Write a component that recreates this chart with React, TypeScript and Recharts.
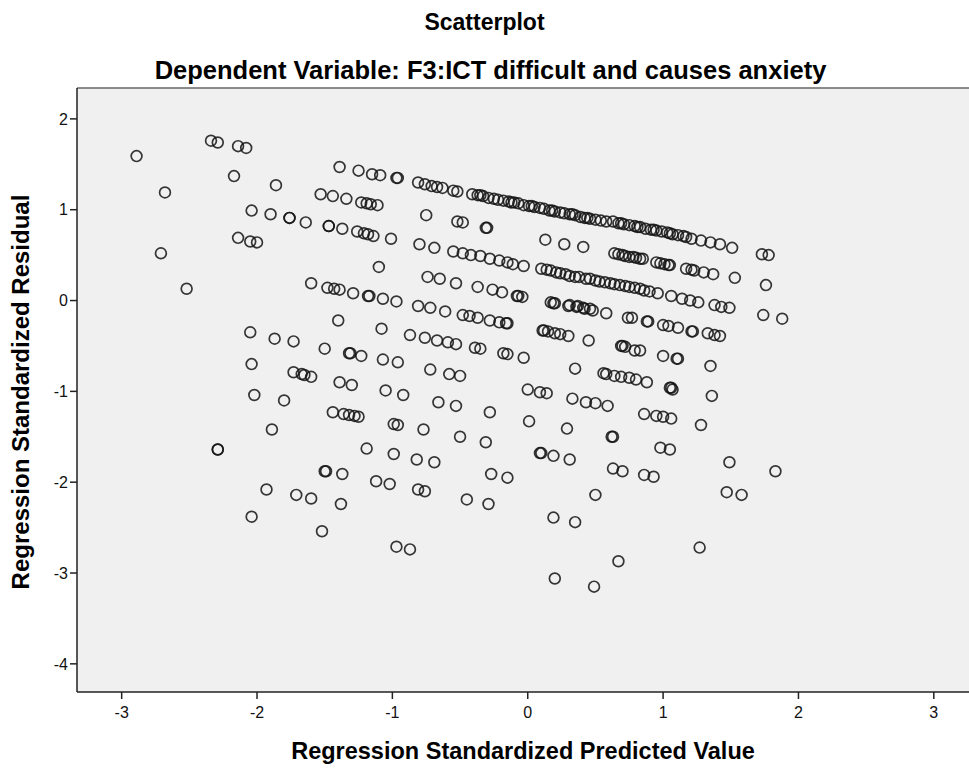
import { ScatterChart, Scatter, XAxis, YAxis, CartesianGrid, ReferenceLine } from 'recharts'

// residuals vs predicted
const isolatedLeft: [number, number][] = [
  [-2.89, 1.59], [-2.68, 1.19], [-2.71, 0.52], [-2.52, 0.13], [-2.34, 1.76], [-2.29, 1.74],
  [-2.14, 1.7], [-2.08, 1.68], [-2.17, 1.37], [-1.86, 1.27], [-2.04, 0.99], [-1.9, 0.95],
  [-1.76, 0.91], [-1.76, 0.91], [-1.64, 0.86], [-2.14, 0.69], [-2.05, 0.65], [-2.0, 0.64],
]

const bandA: [number, number][] = [
  [-1.39, 1.47], [-1.25, 1.43], [-1.15, 1.39], [-1.09, 1.38], [-0.97, 1.35], [-0.96, 1.35],
  [-0.81, 1.3], [-0.76, 1.28], [-0.71, 1.26], [-0.67, 1.25], [-0.63, 1.24], [-0.55, 1.21], [-0.52, 1.2],
  [-0.41, 1.17], [-0.37, 1.16], [-0.35, 1.16], [-0.33, 1.15], [-0.29, 1.13], [-0.25, 1.12], [-0.22, 1.11],
  [-0.18, 1.1], [-0.14, 1.09], [-0.12, 1.08], [-0.1, 1.08], [-0.07, 1.07], [-0.03, 1.05], [0.01, 1.04],
  [0.03, 1.04], [0.05, 1.03], [0.09, 1.02], [0.12, 1.01], [0.16, 0.99], [0.18, 0.99], [0.2, 0.98],
  [0.24, 0.97], [0.27, 0.96], [0.31, 0.95], [0.33, 0.95], [0.35, 0.94], [0.39, 0.92], [0.42, 0.91],
  [0.44, 0.91], [0.46, 0.9], [0.5, 0.89], [0.54, 0.88], [0.58, 0.87],
  [0.63, 0.87], [0.67, 0.85], [0.69, 0.85], [0.71, 0.84], [0.75, 0.83], [0.79, 0.82], [0.81, 0.81],
  [0.83, 0.81], [0.87, 0.79], [0.91, 0.78], [0.93, 0.78], [0.95, 0.77], [0.99, 0.76], [1.03, 0.75],
  [1.05, 0.74], [1.07, 0.73], [1.11, 0.72], [1.15, 0.71], [1.17, 0.7],
  [1.21, 0.68], [1.28, 0.66], [1.35, 0.64], [1.42, 0.62], [1.51, 0.58], [1.73, 0.51], [1.78, 0.5],
]

const bandB: [number, number][] = [
  [-1.53, 1.17], [-1.44, 1.15], [-1.34, 1.12], [-1.23, 1.08], [-1.19, 1.07], [-1.16, 1.06], [-1.11, 1.05],
  [-0.75, 0.94], [-0.52, 0.87], [-0.48, 0.86], [-0.31, 0.8], [-0.3, 0.8],
  [0.13, 0.67], [0.27, 0.62], [0.41, 0.59],
  [0.64, 0.52], [0.67, 0.51], [0.7, 0.5], [0.72, 0.49], [0.75, 0.48], [0.78, 0.48], [0.8, 0.47],
  [0.83, 0.46], [0.85, 0.46], [0.95, 0.42], [0.98, 0.41], [1.01, 0.4], [1.04, 0.39], [1.05, 0.39],
  [1.17, 0.35], [1.21, 0.34], [1.23, 0.33], [1.3, 0.31], [1.37, 0.29], [1.53, 0.25], [1.76, 0.17],
]

const bandC: [number, number][] = [
  [-1.47, 0.82], [-1.47, 0.82], [-1.37, 0.79], [-1.26, 0.76], [-1.21, 0.74], [-1.18, 0.73], [-1.14, 0.71],
  [-1.01, 0.68], [-0.8, 0.62], [-0.69, 0.58],
  [-0.55, 0.54], [-0.48, 0.52], [-0.42, 0.5], [-0.35, 0.49], [-0.28, 0.46], [-0.21, 0.44], [-0.15, 0.42],
  [-0.11, 0.4], [-0.03, 0.38],
  [0.1, 0.35], [0.14, 0.34], [0.17, 0.33], [0.21, 0.31], [0.24, 0.3], [0.28, 0.29], [0.31, 0.27],
  [0.35, 0.26], [0.38, 0.26], [0.43, 0.24], [0.46, 0.24], [0.5, 0.22], [0.53, 0.21], [0.57, 0.2],
  [0.61, 0.19], [0.64, 0.18], [0.68, 0.17], [0.72, 0.16], [0.75, 0.15], [0.79, 0.14], [0.83, 0.13],
  [0.86, 0.11], [0.9, 0.1], [0.96, 0.08],
  [1.06, 0.05], [1.14, 0.02], [1.2, 0.0], [1.26, -0.02], [1.38, -0.05], [1.43, -0.07], [1.49, -0.08],
  [1.74, -0.16], [1.88, -0.2],
]

const bandE: [number, number][] = [
  [-1.1, 0.37], [-0.74, 0.26], [-0.65, 0.24], [-0.53, 0.19], [-0.37, 0.15], [-0.26, 0.12],
  [-0.19, 0.09], [-0.08, 0.05], [-0.07, 0.05], [-0.04, 0.04],
]

const bandD: [number, number][] = [
  [-1.6, 0.19], [-1.48, 0.14], [-1.43, 0.13], [-1.39, 0.12], [-1.29, 0.08], [-1.18, 0.05], [-1.17, 0.05],
  [-1.07, 0.02], [-0.97, -0.01], [-0.81, -0.06], [-0.72, -0.08], [-0.61, -0.12], [-0.48, -0.16],
  [-0.43, -0.17], [-0.37, -0.19], [-0.28, -0.22], [-0.21, -0.24], [-0.16, -0.25], [-0.15, -0.25],
  [0.17, -0.02], [0.19, -0.03], [0.2, -0.03], [0.3, -0.06], [0.31, -0.05], [0.36, -0.07], [0.37, -0.06],
  [0.41, -0.08], [0.42, -0.09], [0.46, -0.09], [0.48, -0.11], [0.58, -0.14], [0.74, -0.19], [0.77, -0.19],
  [0.88, -0.23], [0.89, -0.23], [1.0, -0.27], [1.04, -0.28], [1.11, -0.3], [1.21, -0.34], [1.22, -0.34],
  [1.33, -0.36], [1.38, -0.38], [1.42, -0.39],
]

const bandF: [number, number][] = [
  [-1.4, -0.22], [-1.08, -0.31], [-0.87, -0.38], [-0.76, -0.41], [-0.67, -0.44], [-0.59, -0.46],
  [-0.53, -0.48], [-0.39, -0.52], [-0.35, -0.53], [-0.18, -0.58], [-0.15, -0.59], [-0.03, -0.63],
  [0.11, -0.33], [0.12, -0.33], [0.15, -0.34], [0.2, -0.36], [0.24, -0.37], [0.3, -0.39], [0.45, -0.44],
  [0.69, -0.5], [0.7, -0.5], [0.72, -0.51], [0.79, -0.55], [0.83, -0.55], [1.0, -0.61], [1.1, -0.64],
  [1.11, -0.64], [1.35, -0.72],
]

const bandG: [number, number][] = [
  [-1.32, -0.58], [-1.31, -0.58], [-1.23, -0.61], [-1.07, -0.65], [-0.96, -0.68], [-0.72, -0.76],
  [-0.58, -0.81], [-0.5, -0.83],
  [0.35, -0.75], [0.56, -0.8], [0.58, -0.81], [0.64, -0.83], [0.69, -0.84], [0.75, -0.85], [0.8, -0.87],
  [0.88, -0.9], [1.05, -0.96], [1.06, -0.96], [1.07, -0.98], [1.36, -1.05],
]

const bandH: [number, number][] = [
  [-2.05, -0.35], [-1.87, -0.42], [-1.73, -0.45], [-1.5, -0.53], [-2.04, -0.7], [-1.73, -0.79],
  [-1.67, -0.81], [-1.65, -0.82], [-1.6, -0.84], [-1.39, -0.9], [-1.3, -0.93], [-1.05, -0.99],
  [-0.92, -1.04], [-0.66, -1.12], [-0.53, -1.16], [-0.28, -1.23],
]

const bandI: [number, number][] = [
  [0.0, -0.98], [0.09, -1.01], [0.14, -1.02], [0.33, -1.08], [0.43, -1.12], [0.5, -1.13], [0.59, -1.16],
  [0.86, -1.25], [0.95, -1.27], [1.0, -1.28], [1.06, -1.3], [1.28, -1.37],
]

const bandJ: [number, number][] = [
  [-2.02, -1.04], [-1.8, -1.1], [-1.89, -1.42], [-1.44, -1.23], [-1.36, -1.25], [-1.32, -1.26],
  [-1.28, -1.27], [-1.25, -1.28], [-0.99, -1.36], [-0.96, -1.37], [-0.77, -1.42], [-0.5, -1.5],
  [-0.31, -1.56], [0.01, -1.33], [0.29, -1.41], [0.62, -1.5], [0.63, -1.5],
]

const bandL: [number, number][] = [
  [-2.29, -1.64], [-2.29, -1.64], [-1.19, -1.63], [-0.99, -1.69], [-0.82, -1.75], [-0.69, -1.78],
  [-0.27, -1.91], [-0.15, -1.95], [0.09, -1.68], [0.1, -1.68], [0.19, -1.71], [0.31, -1.75],
  [0.63, -1.85], [0.7, -1.88], [0.86, -1.92], [0.93, -1.94], [0.98, -1.62], [1.05, -1.64],
  [1.49, -1.78], [1.83, -1.88],
]

const bandM: [number, number][] = [
  [-1.5, -1.88], [-1.49, -1.88], [-1.37, -1.91], [-1.12, -1.99], [-1.02, -2.02], [-0.81, -2.08],
  [-0.76, -2.1], [-0.45, -2.19], [-0.29, -2.24], [-1.93, -2.08], [-1.71, -2.14], [-1.6, -2.18],
  [-1.38, -2.24], [0.5, -2.14], [1.47, -2.11], [1.58, -2.14],
]

const lowerTail: [number, number][] = [
  [-2.04, -2.38], [-1.52, -2.54], [-0.97, -2.71], [-0.87, -2.74], [0.19, -2.39], [0.35, -2.44],
  [0.67, -2.87], [0.2, -3.06], [0.49, -3.15], [1.27, -2.72],
]

const xTicks = [-3, -2, -1, 0, 1, 2, 3]
const yTicks = [-4, -3, -2, -1, 0, 1, 2]

const points = [
  ...isolatedLeft, ...bandA, ...bandB, ...bandC, ...bandE, ...bandD, ...bandF,
  ...bandG, ...bandH, ...bandI, ...bandJ, ...bandL, ...bandM, ...lowerTail,
].map(([x, y]) => ({ x, y }))

const font = '"Liberation Sans", Arial, sans-serif'

const Ring = (p: any) => (
  <circle cx={p.cx} cy={p.cy} r={5.4} fill="none" stroke="#141414" strokeOpacity={0.85} strokeWidth={1.7} />
)

const titleStyle = { position: 'absolute' as const, textAlign: 'center' as const, fontWeight: 'bold', whiteSpace: 'nowrap' as const, lineHeight: '28px' }

export default function App() {
  return (
    <div style={{ position: 'absolute', left: 0, top: 0, width: 969, height: 769, background: '#fff', fontFamily: font, overflow: 'hidden' }}>
      <div style={{ ...titleStyle, top: 8, left: 0, width: 969, fontSize: 23 }}>
        Scatterplot
      </div>
      <div style={{ ...titleStyle, top: 56, left: 6, width: 969, fontSize: 25.5 }}>
        Dependent Variable: F3:ICT difficult and causes anxiety
      </div>
      <ScatterChart width={969} height={769} margin={{ top: 88, right: 0, bottom: 37, left: 37 }}>
        <CartesianGrid fill="#f0f0f0" stroke="none" />
        <XAxis
          type="number"
          dataKey="x"
          domain={[-3.33, 3.26]}
          ticks={xTicks}
          height={40}
          axisLine={{ stroke: '#222', strokeWidth: 1.5 }}
          tickLine={{ stroke: '#222', strokeWidth: 1.5 }}
          tickSize={7}
          tickMargin={8}
          tick={{ fill: '#111', fontSize: 16, fontFamily: font }}
          allowDataOverflow
        />
        <YAxis
          type="number"
          dataKey="y"
          domain={[-4.31, 2.34]}
          ticks={yTicks}
          width={40}
          axisLine={{ stroke: '#222', strokeWidth: 1.5 }}
          tickLine={{ stroke: '#222', strokeWidth: 1.5 }}
          tickSize={7}
          tickMargin={2}
          tick={{ fill: '#111', fontSize: 16, fontFamily: font }}
          allowDataOverflow
        />
        <ReferenceLine y={2.34} stroke="#666" strokeWidth={1.5} />
        <Scatter data={points} shape={Ring} isAnimationActive={false} />
      </ScatterChart>
      <div style={{ ...titleStyle, top: 737, left: 77, width: 892, fontSize: 23.5 }}>
        Regression Standardized Predicted Value
      </div>
      <div
        style={{
          ...titleStyle, left: 21, top: 392, width: 500, fontSize: 24,
          transform: 'translate(-50%, -50%) rotate(-90deg)',
        }}
      >
        Regression Standardized Residual
      </div>
    </div>
  )
}
